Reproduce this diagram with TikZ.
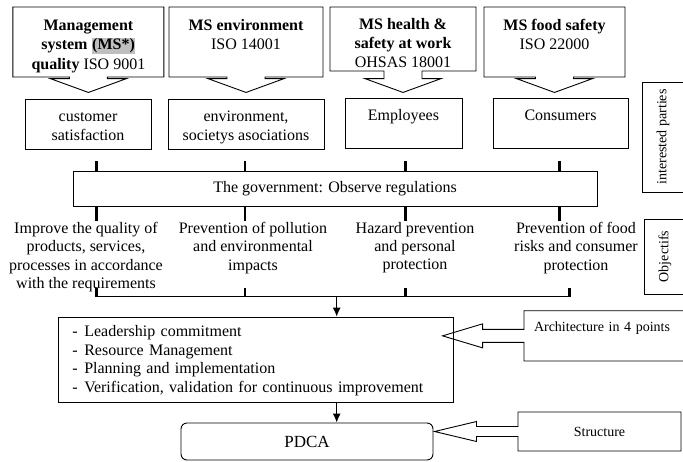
\documentclass[tikz,border=0pt]{standalone}
\usepackage{fontspec}
\setmainfont{Liberation Serif}
\usetikzlibrary{shapes.arrows,arrows.meta}

\newcommand{\msmark}[1]{{\setlength{\fboxsep}{0.6pt}\colorbox{gray!50}{#1}}}

\begin{document}
\begin{tikzpicture}[
x=1pt,y=1pt,
line width=0.9pt,
callbox/.style={
  arrow box,
  draw,
  align=center,
  inner xsep=2pt,
  inner ysep=0pt,
  font=\fontsize{16}{19.5}\selectfont,
  arrow box arrows={south:15pt},
  arrow box shaft width=38pt,
  arrow box head extend=19pt,
  arrow box tip angle=140
},
party/.style={
  draw,
  align=center,
  inner ysep=0pt,
  font=\fontsize{16}{18.5}\selectfont
},
goal/.style={
  align=center,
  inner sep=0pt,
  anchor=north,
  font=\fontsize{16}{18.2}\selectfont
},
sidebox/.style={
  draw,
  rotate=90,
  inner sep=0pt,
  minimum height=42pt,
  font=\fontsize{14}{16}\selectfont
},
note/.style={
  arrow box,
  draw,
  inner ysep=0pt,
  font=\fontsize{14}{16}\selectfont
},
tick/.style={line width=2.6pt},
flow/.style={-{Latex[length=9pt,width=8pt]},line width=1.3pt}
]
\useasboundingbox (0,0) rectangle (683,-461);
\clip (0,0) rectangle (683,-461);

\node[callbox,minimum width=151pt,text height=62pt,text depth=8pt] (ms1) at (88.4,-42)
  {\textbf{Management}\\\textbf{system \msmark{(MS*)}}\\\textbf{quality} ISO 9001};
\node[callbox,minimum width=154pt,text height=42.5pt,text depth=27.5pt] (ms2) at (246,-42)
  {\textbf{MS environment}\\ISO 14001};
\node[callbox,minimum width=146pt,text height=60pt,text depth=4pt,
  font=\fontsize{16}{19}\selectfont,
  arrow box arrows={south:21pt}] (ms3) at (403,-39)
  {\textbf{MS health \&}\\\textbf{safety at work}\\OHSAS 18001};
\node[callbox,minimum width=141pt,text height=42.5pt,text depth=27.5pt] (ms4) at (554.5,-42)
  {\textbf{MS food safety}\\ISO 22000};

\node[party,minimum width=126pt,text height=41.2pt,text depth=8.8pt] (p1) at (88,-124)
  {customer\\satisfaction};
\node[party,minimum width=156pt,text height=41.2pt,text depth=8.8pt] (p2) at (246,-124)
  {environment,\\societys asociations};
\node[party,minimum width=117pt,text height=22.7pt,text depth=27.3pt] (p3) at (403.5,-123)
  {Employees};
\node[party,minimum width=135pt,text height=22.7pt,text depth=27.3pt] (p4) at (560.5,-123)
  {Consumers};

\node[sidebox,minimum width=110pt] (ip) at (663,-137) {interested parties};

\node[draw,minimum width=524pt,minimum height=34.3pt,
  font=\fontsize{16}{18}\selectfont] (gov) at (335,-188.9)
  {The government: Observe regulations};

\foreach \x in {96.7,245,405.7,559.3}{
  \draw[tick] (\x,0 |- gov.north) -- ++(0,10);
  \draw[tick] (\x,0 |- gov.south) -- ++(0,-14);
}

\node[goal] (o1) at (86,-222)
  {Improve the quality of\\products, services,\\processes in accordance\\with the requirements};
\node[goal] (o2) at (253,-222)
  {Prevention of pollution\\and environmental\\impacts};
\node[goal] (o3) at (415,-222)
  {Hazard prevention\\and personal\\protection};
\node[goal] (o4) at (576,-222)
  {Prevention of food\\risks and consumer\\protection};

\node[sidebox,minimum width=75pt] (obj) at (665,-256.5) {Objectifs};

\coordinate (hl) at (96.7,-296.7);
\coordinate (hr) at (569.3,-296.7);
\coordinate (merge) at (336.7,-296.7);
\draw (hl) -- (hr);
\foreach \x in {96.7,245,405.7,569.3}
  \draw[tick] (\x,0 |- hl) -- ++(0,8.7);

\node[draw,anchor=north west,text width=367pt,align=left,
  inner xsep=14pt,inner ysep=0pt,text height=19.8pt,text depth=65.5pt,
  font=\fontsize{16}{18.5}\selectfont] (list) at (58,-316.7)
  {-\hspace{6.5pt}Leadership commitment\\
   -\hspace{6.5pt}Resource Management\\
   -\hspace{6.5pt}Planning and implementation\\
   -\hspace{6.5pt}Verification, validation for continuous improvement};

\node[draw,rounded corners=6pt,minimum width=252pt,minimum height=37pt,
  font=\fontsize{17}{20}\selectfont] (pdca) at (307,-441.5) {PDCA};

\draw[flow] (merge) -- (merge |- list.north);
\draw[flow] (list.south -| merge) -- (pdca.north -| merge);

\node[note,minimum width=170pt,minimum height=50.3pt,text width=150pt,
  align=left,text height=21pt,text depth=29.3pt,
  arrow box arrows={west:81pt},arrow box shaft width=13pt,
  arrow box head extend=5.5pt,arrow box tip angle=33.4] (arch)
  at (609,-335.85) {Architecture in 4 points};
\node[note,minimum width=163pt,minimum height=39pt,
  arrow box arrows={west:83pt},arrow box shaft width=10pt,
  arrow box head extend=5pt,arrow box tip angle=26.8] (struct)
  at (599.5,-431.5) {Structure};
\end{tikzpicture}
\end{document}
